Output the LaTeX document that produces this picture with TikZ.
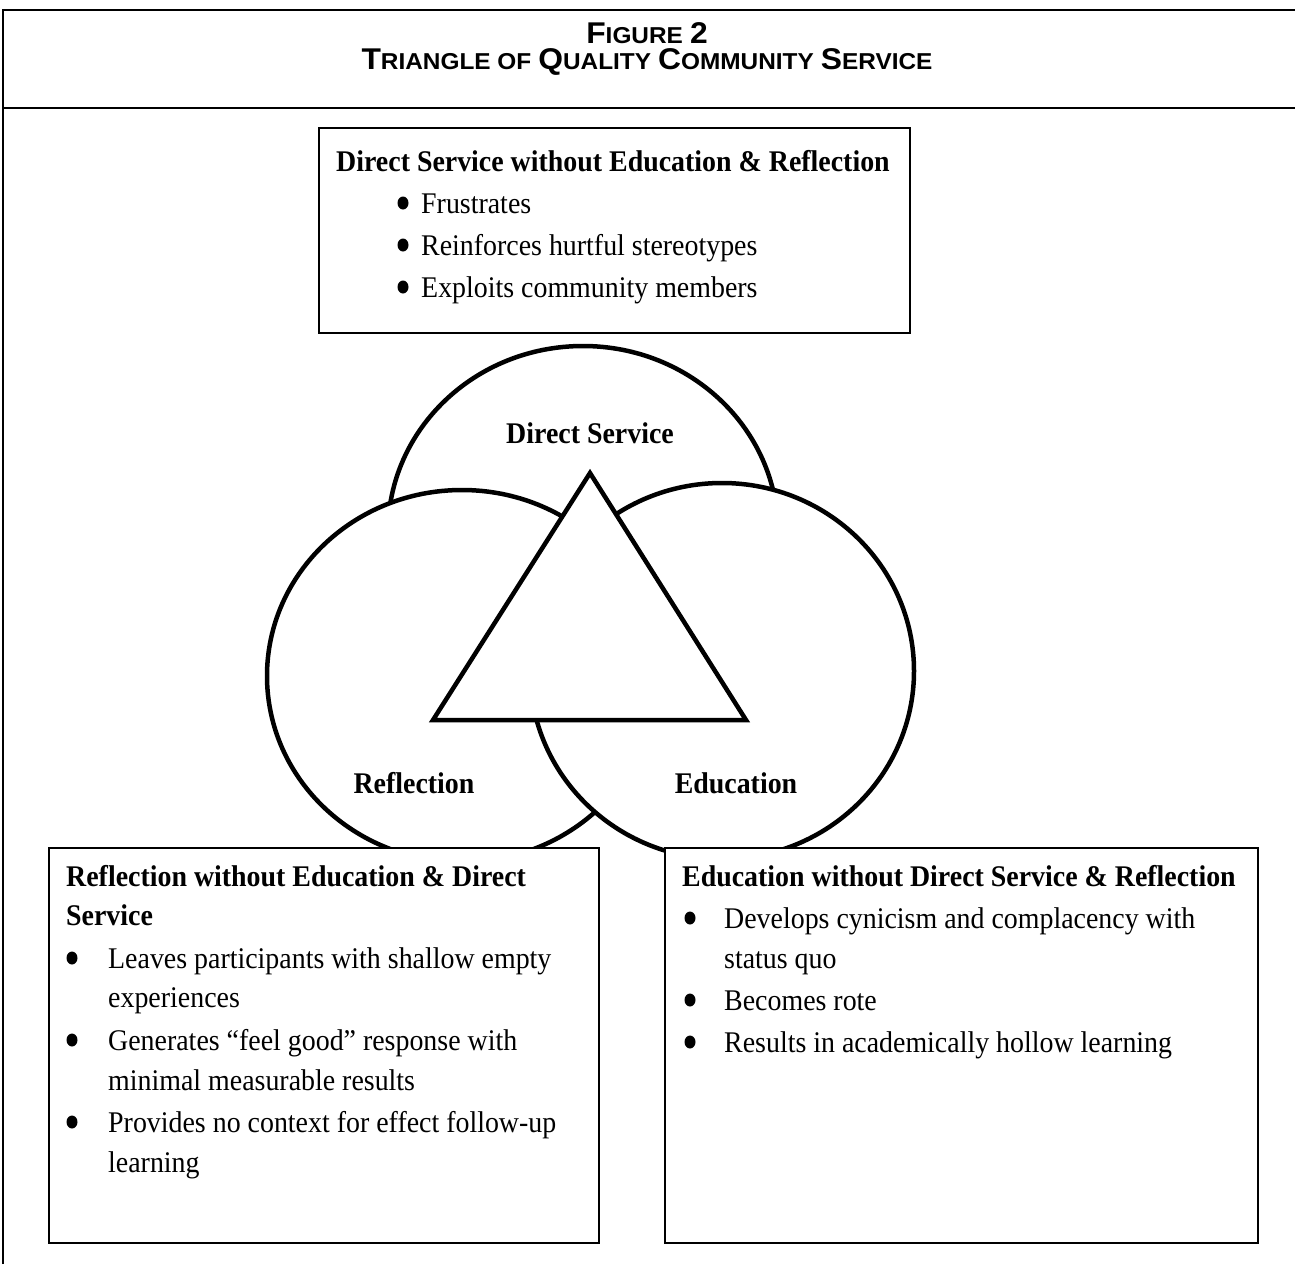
\documentclass[tikz,border=0pt]{standalone}
\usepackage{fontspec}
\setmainfont{Liberation Serif}[FakeStretch=0.93]
\newfontfamily\titlefont{Liberation Sans}[FakeStretch=1.06]
\newcommand{\bigc}[1]{{\fontsize{30}{30}\selectfont #1}}
\newcommand{\smc}[1]{{\fontsize{23}{23}\selectfont #1}}
\begin{document}
\begin{tikzpicture}[x=1pt,y=-1pt,
  ring/.style={draw, line width=4.5pt, fill=white},
  tri/.style={draw, line width=4.5pt, fill=white, line join=miter},
  boxline/.style={draw, line width=1.3pt, fill=white},
  frame/.style={line width=2.5pt},
  dot/.style={fill=black},
  ttl/.style={anchor=base, inner sep=0pt, font=\titlefont\bfseries\fontsize{24}{24}\selectfont},
  txt/.style={anchor=base west, inner sep=0pt, font=\fontsize{30}{30}\selectfont},
  hd/.style={anchor=base west, inner sep=0pt, font=\fontsize{30}{30}\selectfont\bfseries},
  lbl/.style={anchor=base, inner sep=0pt, font=\fontsize{30}{30}\selectfont\bfseries}]
\useasboundingbox (0,0) rectangle (1295,1264);
% frame
\draw[frame] (3,1264) -- (3,10) -- (1295,10);
\draw[frame] (3,108) -- (1295,108);
\node[ttl] (fig) at (647,43) {\bigc{F}\smc{IGURE} \bigc{2}};
\node[ttl] (title) at (647,69) {\bigc{T}\smc{RIANGLE OF} \bigc{Q}\smc{UALITY} \bigc{C}\smc{OMMUNITY} \bigc{S}\smc{ERVICE}};
% ellipses
\draw[ring] (583,532) ellipse [x radius=195, y radius=186];
\draw[ring] (462,676) ellipse [x radius=195, y radius=186];
\draw[ring] (722,671) ellipse [x radius=192, y radius=188];
\draw[tri] (590,473) -- (433,720) -- (746,720) -- cycle;
\node[lbl] (lds) at (590,443) {Direct Service};
\node[lbl] (lre) at (414,793) {Reflection};
\node[lbl] (led) at (736,793) {Education};
% top box
\draw[boxline] (319,128) rectangle (910,333);
\node[hd] (th) at (336,171) {Direct Service without Education \& Reflection};
\node[txt] (t1) at (421,213) {Frustrates};
\node[txt] (t2) at (421,255) {Reinforces hurtful stereotypes};
\node[txt] (t3) at (421,297) {Exploits community members};
\foreach \yy in {213,255,297} \fill[dot] (403,\yy-10) ellipse [x radius=5.5, y radius=6.5];
% left box
\draw[boxline] (49,848) rectangle (599,1243);
\draw[line width=2.5pt] (49,1243) -- (599,1243);
\node[hd] (lh1) at (66,886) {Reflection without Education \& Direct};
\node[hd] (lh2) at (66,925) {Service};
\node[txt] (l1) at (108,968) {Leaves participants with shallow empty};
\node[txt] (l1b) at (108,1007) {experiences};
\node[txt] (l2) at (108,1050) {Generates “feel good” response with};
\node[txt] (l2b) at (108,1090) {minimal measurable results};
\node[txt] (l3) at (108,1132) {Provides no context for effect follow-up};
\node[txt] (l3b) at (108,1172) {learning};
\foreach \yy in {968,1050,1132} \fill[dot] (72,\yy-10) ellipse [x radius=5.5, y radius=6.5];
% right box
\draw[boxline] (665,848) rectangle (1258,1243);
\draw[line width=2.5pt] (665,1243) -- (1258,1243);
\node[hd] (rh) at (682,886) {Education without Direct Service \& Reflection};
\node[txt] (r1) at (724,928) {Develops cynicism and complacency with};
\node[txt] (r1b) at (724,968) {status quo};
\node[txt] (r2) at (724,1010) {Becomes rote};
\node[txt] (r3) at (724,1052) {Results in academically hollow learning};
\foreach \yy in {928,1010,1052} \fill[dot] (690,\yy-10) ellipse [x radius=5.5, y radius=6.5];
\end{tikzpicture}
\end{document}
